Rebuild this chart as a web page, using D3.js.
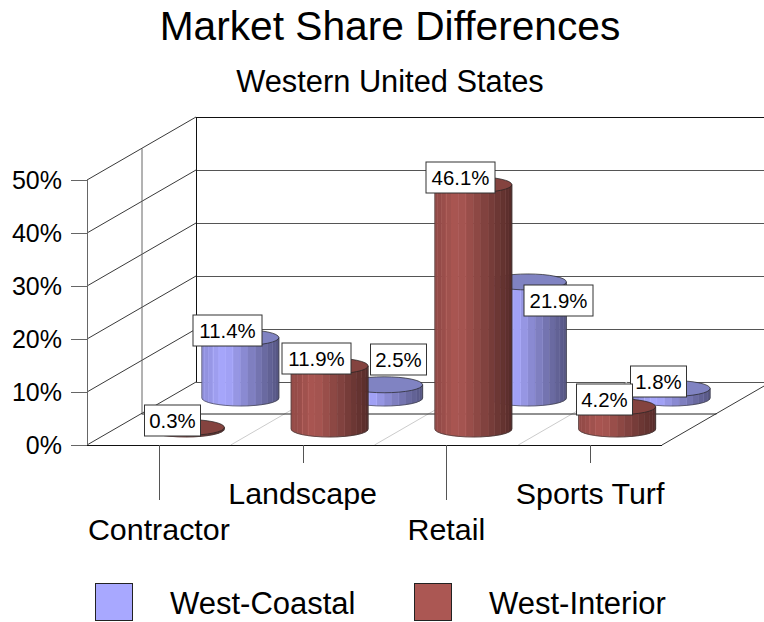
<!DOCTYPE html>
<html>
<head>
<meta charset="utf-8">
<script src="https://cdn.jsdelivr.net/npm/d3@7/dist/d3.min.js"></script>
<style>
html,body{margin:0;padding:0;background:#fff;overflow:hidden}
svg{display:block}
text{font-family:"Liberation Sans",Arial,sans-serif;fill:#000}
</style>
</head>
<body>
<svg id="c" width="764" height="622"></svg>
<script>
const chartTitle = "Market Share Differences";
const chartSubtitle = "Western United States";
const categories = ["Contractor","Landscape","Retail","Sports Turf"];
const seriesNames = ["West-Coastal","West-Interior"];
const westCoastal = [11.4,2.5,21.9,1.8];
const westInterior = [0.3,11.9,46.1,4.2];
const yTicks = [0,10,20,30,40,50];

const svg = d3.select("#c");
const W = 764, H = 622;
const defs = svg.append("defs");
defs.append("clipPath").attr("id","page").append("rect").attr("width",W).attr("height",H);

// 3D box frame
const left = 87, right = 662, base = 445;
const depthX = 109, depthY = 63;
const y = d3.scaleLinear().domain([0,50]).range([base,180]);
const x = d3.scaleBand().domain(categories).range([left,right]);
const fmt = v => v + "%";

const root = svg.append("g").attr("clip-path","url(#page)");
const crisp = (sel,x1,y1,x2,y2,c,w) => sel.append("line").attr("x1",x1).attr("y1",y1).attr("x2",x2).attr("y2",y2).attr("stroke",c).attr("stroke-width",w||1);

const frame = root.append("g");
// back wall gridlines
yTicks.forEach(t=>{
  crisp(frame,left+depthX,y(t)-depthY+.5,right+depthX,y(t)-depthY+.5, t===50?"#111":"#555");
  crisp(frame,left,y(t),left+depthX,y(t)-depthY,"#222",.9);
  crisp(frame,71,y(t)+.5,left,y(t)+.5,"#666");
});
// vertical edges
crisp(frame,left+.5,y(50),left+.5,base,"#666");
crisp(frame,left+depthX/2+.5,y(50)-depthY/2,left+depthX/2+.5,base-depthY/2,"#666");
crisp(frame,left+depthX+.5,y(50)-depthY,left+depthX+.5,base-depthY,"#111");
// floor dividers between categories
categories.slice(1).forEach(c=>{
  crisp(frame,x(c),base,x(c)+depthX,base-depthY,"#ccc");
});
// floor outline
crisp(frame,left+depthX/2,base-depthY/2+.5,right+depthX/2,base-depthY/2+.5,"#222");
crisp(frame,left,base+.5,right,base+.5,"#111");
crisp(frame,right,base,right+depthX,base-depthY,"#222",.9);

// category ticks and labels, staggered
categories.forEach((c,i)=>{
  const cx = x(c)+x.bandwidth()/2;
  crisp(frame,Math.round(cx)+.5,base,Math.round(cx)+.5,i%2?463:500,"#555");
  root.append("text").attr("x",cx).attr("y",i%2?504:540).attr("text-anchor","middle")
    .attr("font-size",30.4).text(c);
});

// y-axis labels
root.selectAll("text.ytick").data(yTicks).join("text").attr("class","ytick")
  .attr("x",62).attr("y",d=>y(d)+9).attr("text-anchor","end").attr("font-size",25).text(fmt);

// cylinders
const rx = 38.5, ry = 8, facets = 16;
const rows = [
  {name:seriesNames[0],values:westCoastal,side:"#a8a8ff",top:"#8083c2",dx:54.5,by:398},
  {name:seriesNames[1],values:westInterior,side:"#ab5753",top:"#84433f",dx:0,by:429}
];
const colX = d => x(d)+x.bandwidth()/2+27;
const shade = (c,t)=>{
  const f = t<.3 ? .84+.16*t/.3 : 1-.5*((t-.3)/.7);
  const h = d3.rgb(c); return d3.rgb(h.r*f,h.g*f,h.b*f).formatHex();
};
const pts = [];
rows.forEach((r,ri)=>{
  const g = root.append("g").attr("class","row");
  categories.forEach((c,i)=>{
    const v = r.values[i];
    const cx = colX(c)+r.dx, yb = r.by, yt = r.by-(y(0)-y(v));
    const cyl = g.append("g");
    const angs = d3.range(facets+1).map(k=>Math.PI*(1-k/facets));
    d3.range(facets).forEach(k=>{
      const a0=angs[k],a1=angs[k+1];
      const x0=cx+rx*Math.cos(a0),x1=cx+rx*Math.cos(a1);
      const col=shade(r.side,(x0+x1-2*(cx-rx))/(4*rx));
      const d=`M${x0},${yt}L${x1},${yt}L${x1},${yb+ry*Math.sin(a1)}L${x0},${yb+ry*Math.sin(a0)}Z`;
      cyl.append("path").attr("d",d).attr("fill",col)
        .attr("stroke",d3.color(col).brighter(k%3===1?.4:.08)).attr("stroke-width",.6);
    });
    const outline=`M${cx-rx},${yt}L${cx-rx},${yb}A${rx},${ry} 0 0 0 ${cx+rx},${yb}L${cx+rx},${yt}`;
    cyl.append("path").attr("d",outline).attr("fill","none").attr("stroke","#333").attr("stroke-width",.6);
    cyl.append("ellipse").attr("cx",cx).attr("cy",yt).attr("rx",rx).attr("ry",ry)
      .attr("fill",r.top).attr("stroke","#222").attr("stroke-width",.7);
    pts.push({v,cx,yt,row:ri,i});
  });
});

// data labels
const moved = {"0-1":[13.5,-26],"0-2":[30,18.5]};
const labels = root.append("g");
pts.forEach(p=>{
  const off = moved[p.row+"-"+p.i] || [-13.5,-7.5];
  const t = p.v.toFixed(1)+"%";
  const w = t.length===5?69:56, h=31;
  const lx = Math.round(p.cx+off[0]), ly = Math.round(p.yt+off[1]);
  labels.append("rect").attr("x",lx-w/2+.5).attr("y",ly-h/2+.5).attr("width",w).attr("height",h)
    .attr("fill","#fff").attr("stroke","#333");
  labels.append("text").attr("x",lx+.5).attr("y",ly+8).attr("text-anchor","middle").attr("font-size",20.4).text(t);
});

// titles
root.append("text").attr("x",390).attr("y",40).attr("text-anchor","middle").attr("font-size",40.7).text(chartTitle);
root.append("text").attr("x",390).attr("y",92).attr("text-anchor","middle").attr("font-size",30.8).text(chartSubtitle);

// legend
const legendX = [95,414], legendTextX = [170,489];
seriesNames.forEach((n,i)=>{
  root.append("rect").attr("x",legendX[i]+.5).attr("y",583.5).attr("width",37).attr("height",37)
    .attr("fill",rows[i].side).attr("stroke","#222");
  root.append("text").attr("x",legendTextX[i]).attr("y",614).attr("font-size",31).text(n);
});
</script>
</body>
</html>
